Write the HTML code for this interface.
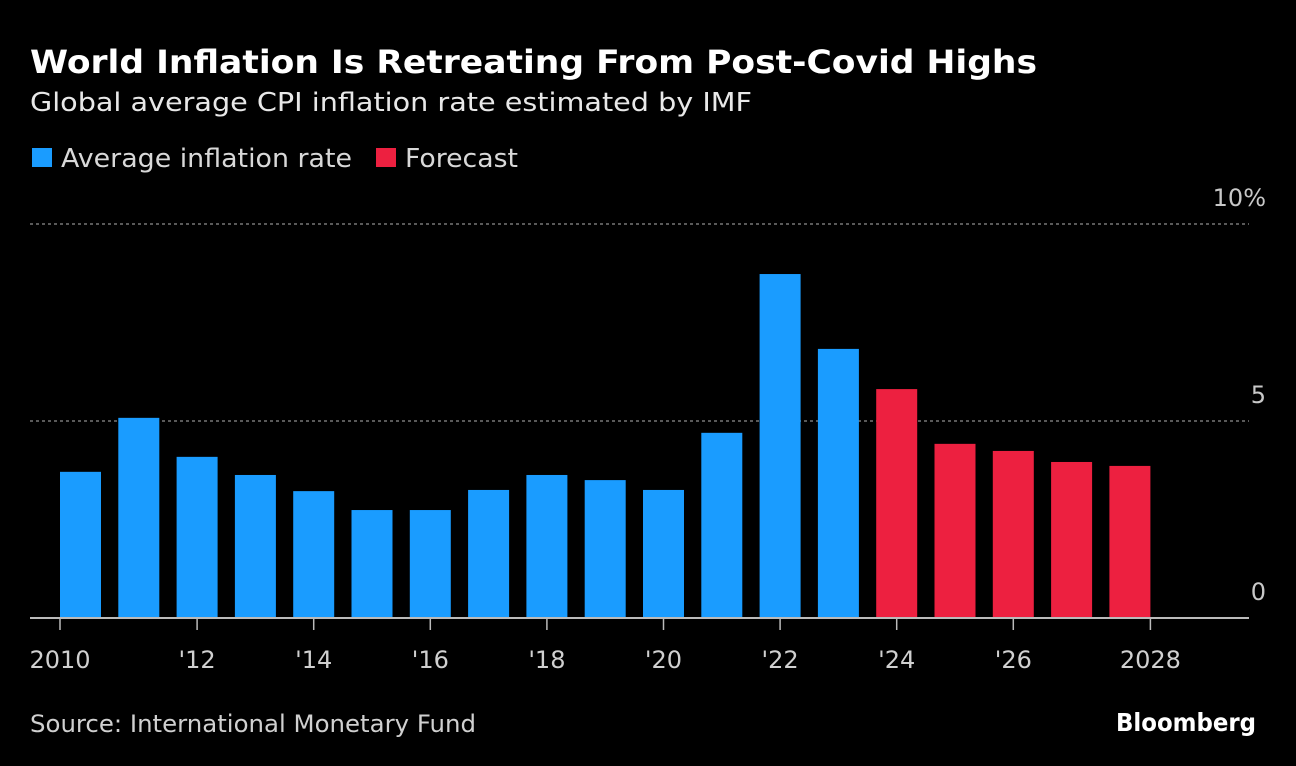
<!DOCTYPE html>
<html><head><meta charset="utf-8"><style>
html,body{margin:0;padding:0;background:#000;}
svg{display:block;}
text{font-family:"DejaVu Sans","Liberation Sans",sans-serif;}
</style></head><body>
<svg id="chart" width="1296" height="766" viewBox="0 0 1296 766">
<rect width="1296" height="766" fill="#000"/>
<text x="30" y="73" font-size="32" font-weight="bold" fill="#fff" textLength="1007" lengthAdjust="spacingAndGlyphs">World Inflation Is Retreating From Post-Covid Highs</text>
<text x="30" y="111" font-size="26" fill="#e8e8e8" textLength="722" lengthAdjust="spacingAndGlyphs">Global average CPI inflation rate estimated by IMF</text>
<g>
<rect x="32" y="148" width="20" height="19" fill="#1a9cff"/>
<text x="61" y="167" font-size="26" fill="#d8d8d8" textLength="291" lengthAdjust="spacingAndGlyphs">Average inflation rate</text>
<rect x="376" y="148" width="20" height="19" fill="#ed2040"/>
<text x="405" y="167" font-size="26" fill="#d8d8d8" textLength="113" lengthAdjust="spacingAndGlyphs">Forecast</text>
</g>
<g id="grid"></g>
<g id="bars"></g>
<g id="axis"></g>
<text x="30" y="732" font-size="24" fill="#d0d0d0" textLength="446" lengthAdjust="spacingAndGlyphs">Source: International Monetary Fund</text>
<text x="1256" y="731" font-size="25" font-weight="bold" fill="#fff" text-anchor="end" textLength="140" lengthAdjust="spacingAndGlyphs">Bloomberg</text>
</svg>
<script>
const years = [2010,2011,2012,2013,2014,2015,2016,2017,2018,2019,2020,2021,2022,2023,2024,2025,2026,2027,2028];
const values = [3.71,5.08,4.09,3.63,3.22,2.74,2.74,3.25,3.63,3.50,3.25,4.70,8.73,6.83,5.81,4.42,4.24,3.96,3.86];
const forecastStart = 2024;
const yTicks = [0,5,10];
const yTickLabels = ["0","5","10%"];
const xTickYears = [2010,2012,2014,2016,2018,2020,2022,2024,2026,2028];
const xTickLabels = ["2010","'12","'14","'16","'18","'20","'22","'24","'26","2028"];

const NS="http://www.w3.org/2000/svg";
const y0=618, pxPerUnit=39.4, barLeft0=60, step=58.3, barW=41;
function yScale(v){return y0 - v*pxPerUnit;}
function xScale(yr){return barLeft0 + (yr-years[0])*step;}
function mk(tag,attrs,parent){const e=document.createElementNS(NS,tag);for(const k in attrs)e.setAttribute(k,attrs[k]);parent.appendChild(e);return e;}

const grid=document.getElementById('grid');
yTicks.forEach((t,i)=>{
  const y=yScale(t);
  if(t!==0){
    const l=mk('line',{x1:30,x2:1249,y1:y,y2:y,stroke:'#777','stroke-width':1.5,'stroke-dasharray':'3,3'},grid);
    
    
  }
  const tx=mk('text',{x:1266,y:y-18,'font-size':24,fill:'#c8c8c8','text-anchor':'end'},grid);
  tx.textContent=yTickLabels[i];
  
  
});

const bars=document.getElementById('bars');
years.forEach((yr,i)=>{
  const top=yScale(values[i]);
  const r=mk('rect',{x:xScale(yr),y:top,width:barW,height:y0-top,fill: yr>=forecastStart?'#ed2040':'#1a9cff'},bars);
  
  
});

const axis=document.getElementById('axis');
const al=mk('line',{x1:30,x2:1249,y1:y0,y2:y0,stroke:'#bbb','stroke-width':2},axis);


xTickYears.forEach((yr,i)=>{
  let x;
  if(i===0) x=xScale(yr);
  else if(i===xTickYears.length-1) x=xScale(yr)+barW;
  else x=xScale(yr)+barW/2;
  const tk=mk('line',{x1:x,x2:x,y1:y0,y2:y0+12,stroke:'#bbb','stroke-width':1.5},axis);
  
  
  const tx=mk('text',{x:x,y:668,'font-size':24,fill:'#d0d0d0','text-anchor':'middle'},axis);
  tx.textContent=xTickLabels[i];
  
  
});
</script>
</body></html>
